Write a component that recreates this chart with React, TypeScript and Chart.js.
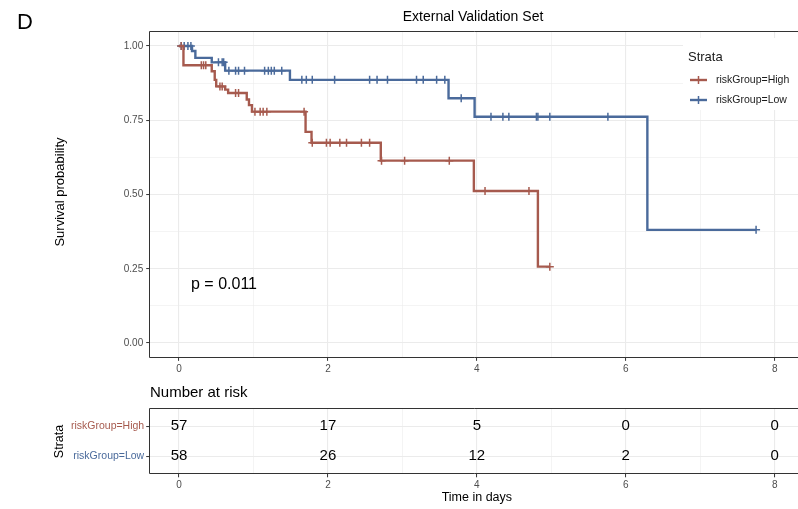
import React, { useEffect, useRef } from "react";
import { Chart, registerables } from "chart.js";

Chart.register(...registerables);

const FONT = "'Liberation Sans', Arial, Helvetica, sans-serif";
const RED = "#A65A4E";
const BLUE = "#4A6A9B";

// ---------------- data ----------------
const strataNames = ["riskGroup=High", "riskGroup=Low"];

const highTimes = [0, 0.06, 0.44, 0.48, 0.5, 0.62, 0.66, 0.91, 0.94, 0.98, 1.7, 1.78, 2.71, 3.96, 4.82, 4.98];
const highSurv = [1, 0.935, 0.915, 0.886, 0.864, 0.853, 0.842, 0.82, 0.801, 0.779, 0.711, 0.674, 0.614, 0.512, 0.257, 0.257];

const highCensorTimes = [0.03, 0.3, 0.33, 0.36, 0.55, 0.58, 0.76, 0.8, 1.02, 1.09, 1.13, 1.18, 1.68, 1.79, 1.98, 2.03, 2.16, 2.25, 2.45, 2.56, 2.72, 3.03, 3.63, 4.11, 4.7, 4.98];
const highCensorSurv = [1, 0.935, 0.935, 0.935, 0.864, 0.864, 0.842, 0.842, 0.779, 0.779, 0.779, 0.779, 0.779, 0.674, 0.674, 0.674, 0.674, 0.674, 0.674, 0.674, 0.614, 0.614, 0.614, 0.512, 0.512, 0.257];

const lowTimes = [0, 0.175, 0.22, 0.44, 0.62, 1.49, 3.62, 3.97, 6.29, 7.75];
const lowSurv = [1, 0.983, 0.96, 0.945, 0.917, 0.886, 0.824, 0.762, 0.381, 0.381];

const lowCensorTimes = [0.03, 0.07, 0.12, 0.16, 0.53, 0.58, 0.6, 0.67, 0.76, 0.8, 0.88, 1.15, 1.2, 1.24, 1.28, 1.38, 1.65, 1.71, 1.79, 2.09, 2.56, 2.66, 2.8, 3.19, 3.28, 3.46, 3.57, 3.79, 4.19, 4.35, 4.43, 4.8, 4.82, 4.98, 5.76, 7.75];
const lowCensorSurv = [1, 1, 1, 1, 0.945, 0.945, 0.945, 0.917, 0.917, 0.917, 0.917, 0.917, 0.917, 0.917, 0.917, 0.917, 0.886, 0.886, 0.886, 0.886, 0.886, 0.886, 0.886, 0.886, 0.886, 0.886, 0.886, 0.824, 0.762, 0.762, 0.762, 0.762, 0.762, 0.762, 0.762, 0.381];

const riskTimes = [0, 2, 4, 6, 8];
const riskHigh = [57, 17, 5, 0, 0];
const riskLow = [58, 26, 12, 2, 0];

const xTickValues = [0, 1, 2, 3, 4, 5, 6, 7, 8];
const xLabelValues = [0, 2, 4, 6, 8];
const yTickValues = [0, 0.125, 0.25, 0.375, 0.5, 0.625, 0.75, 0.875, 1];
const yLabelValues = [0, 0.25, 0.5, 0.75, 1];

const titleText = "External Validation Set";
const panelLetter = "D";
const pValueText = "p = 0.011";
const yTitle = "Survival probability";
const xTitle = "Time in days";
const tableTitle = "Number at risk";
const tableYTitle = "Strata";
const legendTitle = "Strata";

// ---------------- helpers ----------------
const X_MIN = -0.4;
const X_MAX = 8.313;
const GRID = "#EBEBEB";
const TICK = "#333333";
const TICKLABEL = "#4D4D4D";
const LINE_W = 2.4;

const pts = (xs: number[], ys: number[]) => xs.map((x, i) => ({ x, y: ys[i] }));
const isIn = (v: number, arr: number[]) => arr.some((a) => Math.abs(a - v) < 1e-6);

const zeroPad = (s: any) => {
  s.paddingLeft = 0;
  s.paddingRight = 0;
  s.paddingTop = 0;
  s.paddingBottom = 0;
};

function xScaleOpts(height: number) {
  return {
    type: "linear" as const,
    min: X_MIN,
    max: X_MAX,
    afterBuildTicks: (s: any) => {
      s.ticks = xTickValues.map((v) => ({ value: v }));
    },
    afterFit: (s: any) => {
      s.height = height;
      zeroPad(s);
    },
    border: { display: false },
    grid: {
      color: GRID,
      lineWidth: (c: any) => (isIn(c.tick?.value, xLabelValues) ? 1.1 : 0.55),
      tickColor: (c: any) => (isIn(c.tick?.value, xLabelValues) ? TICK : "rgba(0,0,0,0)"),
      tickLength: 3,
      tickWidth: 1,
    },
    ticks: {
      autoSkip: false,
      maxRotation: 0,
      padding: 2,
      color: TICKLABEL,
      font: { family: FONT, size: 10 },
      callback: (v: any) => (isIn(Number(v), xLabelValues) ? String(v) : ""),
    },
  };
}

function drawCross(ctx: CanvasRenderingContext2D, x: number, y: number, color: string) {
  ctx.strokeStyle = color;
  ctx.lineWidth = LINE_W;
  ctx.beginPath();
  ctx.moveTo(x - 8.5, y);
  ctx.lineTo(x + 8.5, y);
  ctx.stroke();
  ctx.lineWidth = 1.5;
  ctx.beginPath();
  ctx.moveTo(x, y - 4);
  ctx.lineTo(x, y + 4);
  ctx.moveTo(x - 4, y);
  ctx.lineTo(x + 4, y);
  ctx.stroke();
}

function drawPanelBorder(ctx: CanvasRenderingContext2D, a: any) {
  ctx.strokeStyle = "#333333";
  ctx.lineWidth = 1;
  const l = Math.round(a.left) + 0.5;
  const t = Math.round(a.top) + 0.5;
  const b = Math.round(a.bottom) - 0.5;
  ctx.beginPath();
  ctx.moveTo(a.right + 10, t);
  ctx.lineTo(l, t);
  ctx.lineTo(l, b);
  ctx.lineTo(a.right + 10, b);
  ctx.stroke();
}

const mainDecor = {
  id: "mainDecor",
  afterDraw(chart: any) {
    const { ctx, chartArea: a } = chart;
    ctx.save();
    drawPanelBorder(ctx, a);

    // legend box
    ctx.fillStyle = "#FFFFFF";
    ctx.fillRect(683, 38, 130, 72);
    ctx.fillStyle = "#1A1A1A";
    ctx.font = `13px ${FONT}`;
    ctx.textAlign = "left";
    ctx.textBaseline = "middle";
    ctx.fillText(legendTitle, 688, 57);
    drawCross(ctx, 698.5, 80, RED);
    drawCross(ctx, 698.5, 100, BLUE);
    ctx.fillStyle = "#1A1A1A";
    ctx.font = `10.5px ${FONT}`;
    ctx.fillText(strataNames[0], 716, 80);
    ctx.fillText(strataNames[1], 716, 100);

    // letter
    ctx.fillStyle = "#000000";
    ctx.font = `22px ${FONT}`;
    ctx.textBaseline = "alphabetic";
    ctx.fillText(panelLetter, 17, 29);

    // title
    ctx.font = `14px ${FONT}`;
    ctx.textAlign = "center";
    ctx.textBaseline = "middle";
    ctx.fillText(titleText, 473, 17);

    // p value
    ctx.font = `16px ${FONT}`;
    ctx.textAlign = "left";
    ctx.fillText(pValueText, 191, 285);

    // y title
    ctx.save();
    ctx.translate(60, 192);
    ctx.rotate(-Math.PI / 2);
    ctx.textAlign = "center";
    ctx.font = `13px ${FONT}`;
    ctx.fillText(yTitle, 0, 0);
    ctx.restore();

    ctx.restore();
  },
};

const tableDecor = {
  id: "tableDecor",
  afterDraw(chart: any) {
    const { ctx, chartArea: a, scales } = chart;
    ctx.save();
    drawPanelBorder(ctx, a);

    ctx.fillStyle = "#000000";
    ctx.font = `15px ${FONT}`;
    ctx.textAlign = "center";
    ctx.textBaseline = "middle";
    riskTimes.forEach((t, i) => {
      const x = scales.x.getPixelForValue(t);
      ctx.fillText(String(riskHigh[i]), x, scales.y.getPixelForValue(1));
      ctx.fillText(String(riskLow[i]), x, scales.y.getPixelForValue(2));
    });

    ctx.textAlign = "left";
    ctx.font = `15px ${FONT}`;
    ctx.fillText(tableTitle, 150, 13);

    ctx.textAlign = "center";
    ctx.font = `12.5px ${FONT}`;
    ctx.fillText(xTitle, scales.x.getPixelForValue(4), 118);

    ctx.save();
    ctx.translate(60, 61.5);
    ctx.rotate(-Math.PI / 2);
    ctx.fillText(tableYTitle, 0, 0);
    ctx.restore();

    ctx.restore();
  },
};

export default function App() {
  const mainRef = useRef<HTMLCanvasElement | null>(null);
  const tableRef = useRef<HTMLCanvasElement | null>(null);

  useEffect(() => {
    if (!mainRef.current || !tableRef.current) return;

    const lineDs = (label: string, xs: number[], ys: number[], color: string) => ({
      type: "line" as const,
      label,
      data: pts(xs, ys),
      borderColor: color,
      backgroundColor: color,
      borderWidth: LINE_W,
      stepped: "before" as const,
      pointRadius: 0,
      pointHoverRadius: 0,
      fill: false,
      tension: 0,
    });
    const censorDs = (label: string, xs: number[], ys: number[], color: string) => ({
      type: "scatter" as const,
      label,
      data: pts(xs, ys),
      borderColor: color,
      backgroundColor: color,
      pointStyle: "cross" as const,
      pointRadius: 4,
      pointBorderWidth: 1.5,
      pointHoverRadius: 4,
      showLine: false,
    });

    const main = new Chart(mainRef.current, {
      type: "line",
      data: {
        datasets: [
          lineDs(strataNames[0], highTimes, highSurv, RED),
          lineDs(strataNames[1], lowTimes, lowSurv, BLUE),
          censorDs(strataNames[0] + " censor", highCensorTimes, highCensorSurv, RED),
          censorDs(strataNames[1] + " censor", lowCensorTimes, lowCensorSurv, BLUE),
        ] as any,
      },
      options: {
        animation: false,
        responsive: false,
        devicePixelRatio: 1,
        events: [],
        layout: { autoPadding: false, padding: { top: 31.15, left: 0, right: 0, bottom: 0 } },
        plugins: { legend: { display: false }, tooltip: { enabled: false }, title: { display: false } },
        scales: {
          x: xScaleOpts(380 - 357.85) as any,
          y: {
            type: "linear",
            min: -0.05,
            max: 1.05,
            afterBuildTicks: (s: any) => {
              s.ticks = yTickValues.map((v) => ({ value: v }));
            },
            afterFit: (s: any) => {
              s.width = 149.2;
              zeroPad(s);
            },
            border: { display: false },
            grid: {
              color: GRID,
              lineWidth: (c: any) => (isIn(c.tick?.value, yLabelValues) ? 1.1 : 0.55),
              tickColor: (c: any) => (isIn(c.tick?.value, yLabelValues) ? TICK : "rgba(0,0,0,0)"),
              tickLength: 3,
              tickWidth: 1,
            },
            ticks: {
              autoSkip: false,
              padding: 3,
              color: TICKLABEL,
              font: { family: FONT, size: 10 },
              callback: (v: any) => (isIn(Number(v), yLabelValues) ? Number(v).toFixed(2) : ""),
            },
          } as any,
        },
      },
      plugins: [mainDecor],
    });

    const table = new Chart(tableRef.current, {
      type: "scatter",
      data: { datasets: [] },
      options: {
        animation: false,
        responsive: false,
        devicePixelRatio: 1,
        events: [],
        layout: { autoPadding: false, padding: { top: 28.3, left: 0, right: 0, bottom: 0 } },
        plugins: { legend: { display: false }, tooltip: { enabled: false } },
        scales: {
          x: xScaleOpts(129 - 94.3) as any,
          y: {
            type: "linear",
            reverse: true,
            min: 0.4,
            max: 2.6,
            afterBuildTicks: (s: any) => {
              s.ticks = [1, 2].map((v) => ({ value: v }));
            },
            afterFit: (s: any) => {
              s.width = 149.2;
              zeroPad(s);
            },
            border: { display: false },
            grid: { color: GRID, lineWidth: 1.1, tickColor: TICK, tickLength: 3, tickWidth: 1 },
            ticks: {
              autoSkip: false,
              padding: 2,
              color: (c: any) => (c.tick?.value === 1 ? RED : BLUE),
              font: { family: FONT, size: 10.5 },
              callback: (v: any) => strataNames[Number(v) - 1] ?? "",
            },
          } as any,
        },
      },
      plugins: [tableDecor],
    });

    return () => {
      main.destroy();
      table.destroy();
    };
  }, []);

  return (
    <div
      style={{
        position: "fixed",
        left: 0,
        top: 0,
        width: 798,
        height: 509,
        overflow: "hidden",
        background: "#FFFFFF",
      }}
    >
      <canvas ref={mainRef} width={798} height={380} style={{ position: "absolute", left: 0, top: 0 }} />
      <canvas ref={tableRef} width={798} height={129} style={{ position: "absolute", left: 0, top: 380 }} />
    </div>
  );
}
